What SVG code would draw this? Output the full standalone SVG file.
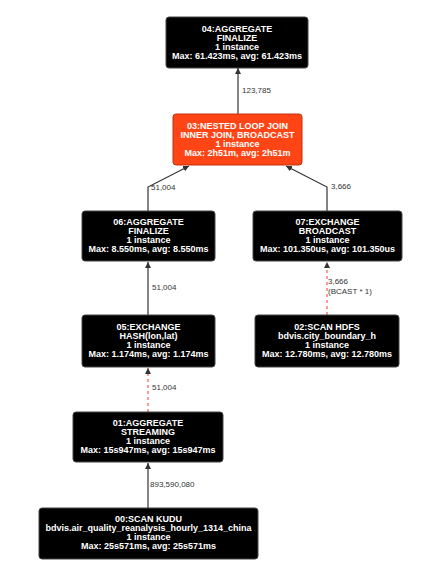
<svg xmlns="http://www.w3.org/2000/svg" width="445" height="568" viewBox="0 0 445 568">
<style>
.node rect{fill:#000;stroke:#444;stroke-width:1}
.node.hot rect{fill:#FF4515;stroke:#C03010}
.node text{font-family:"Liberation Sans",Arial,sans-serif;font-size:9px;font-weight:bold;fill:#fff;text-anchor:middle}
.e{fill:none;stroke:#333;stroke-width:1.2}
.e.d{stroke:#FF5555;stroke-dasharray:3,3}
.lbl{font-family:"Liberation Sans",Arial,sans-serif;font-size:8px;fill:#333}
</style>
<defs>
<marker id="ah" viewBox="0 0 10 10" refX="10" refY="5" markerWidth="6" markerHeight="6" orient="auto" markerUnits="userSpaceOnUse">
<path d="M0,0 L10,5 L0,10 z" fill="#333"/>
</marker>
</defs>
<rect width="445" height="568" fill="#fff"/>
<g id="connectors">
<path class="e" d="M238,114 L238,68" marker-end="url(#ah)"/>
<text class="lbl" x="242" y="93">123,785</text>
<path class="e" d="M148,211 L148,187 L189,166" marker-end="url(#ah)"/>
<text class="lbl" x="151" y="190">51,004</text>
<path class="e" d="M327,211 L327,187 L286,166" marker-end="url(#ah)"/>
<text class="lbl" x="331" y="189">3,666</text>
<path class="e" d="M148,315 L148,262" marker-end="url(#ah)"/>
<text class="lbl" x="152" y="290">51,004</text>
<path class="e d" d="M327,315 L327,262" marker-end="url(#ah)"/>
<text class="lbl" x="328" y="284">3,666</text>
<text class="lbl" x="328" y="294">(BCAST * 1)</text>
<path class="e d" d="M148,412 L148,368" marker-end="url(#ah)"/>
<text class="lbl" x="152" y="390">51,004</text>
<path class="e" d="M148,508 L148,463" marker-end="url(#ah)"/>
<text class="lbl" x="150" y="487">893,590,080</text>
</g>
<g id="n04" class="node">
<rect x="166" y="17" width="142" height="51" rx="3"/>
<text x="237" y="32">04:AGGREGATE</text>
<text x="237" y="41">FINALIZE</text>
<text x="237" y="50">1 instance</text>
<text x="237" y="59">Max: 61.423ms, avg: 61.423ms</text>
</g>
<g id="n03" class="node hot">
<rect x="173" y="114" width="129" height="51" rx="3"/>
<text x="237.5" y="129">03:NESTED LOOP JOIN</text>
<text x="237.5" y="138">INNER JOIN, BROADCAST</text>
<text x="237.5" y="147">1 instance</text>
<text x="237.5" y="156">Max: 2h51m, avg: 2h51m</text>
</g>
<g id="n06" class="node">
<rect x="82" y="211" width="133" height="50" rx="3"/>
<text x="148.5" y="225">06:AGGREGATE</text>
<text x="148.5" y="234">FINALIZE</text>
<text x="148.5" y="243">1 instance</text>
<text x="148.5" y="252">Max: 8.550ms, avg: 8.550ms</text>
</g>
<g id="n07" class="node">
<rect x="253" y="211" width="149" height="50" rx="3"/>
<text x="327.5" y="225">07:EXCHANGE</text>
<text x="327.5" y="234">BROADCAST</text>
<text x="327.5" y="243">1 instance</text>
<text x="327.5" y="252">Max: 101.350us, avg: 101.350us</text>
</g>
<g id="n05" class="node">
<rect x="82" y="315" width="133" height="52" rx="3"/>
<text x="148.5" y="330">05:EXCHANGE</text>
<text x="148.5" y="339">HASH(lon,lat)</text>
<text x="148.5" y="348">1 instance</text>
<text x="148.5" y="357">Max: 1.174ms, avg: 1.174ms</text>
</g>
<g id="n02" class="node">
<rect x="255" y="315" width="144" height="52" rx="3"/>
<text x="327" y="330">02:SCAN HDFS</text>
<text x="327" y="339">bdvis.city_boundary_h</text>
<text x="327" y="348">1 instance</text>
<text x="327" y="357">Max: 12.780ms, avg: 12.780ms</text>
</g>
<g id="n01" class="node">
<rect x="73" y="412" width="150" height="50" rx="3"/>
<text x="148" y="426">01:AGGREGATE</text>
<text x="148" y="435">STREAMING</text>
<text x="148" y="444">1 instance</text>
<text x="148" y="453">Max: 15s947ms, avg: 15s947ms</text>
</g>
<g id="n00" class="node">
<rect x="39" y="508" width="219" height="51" rx="3"/>
<text x="148.5" y="522">00:SCAN KUDU</text>
<text x="148.5" y="531">bdvis.air_quality_reanalysis_hourly_1314_china</text>
<text x="148.5" y="540">1 instance</text>
<text x="148.5" y="549">Max: 25s571ms, avg: 25s571ms</text>
</g>
</svg>
